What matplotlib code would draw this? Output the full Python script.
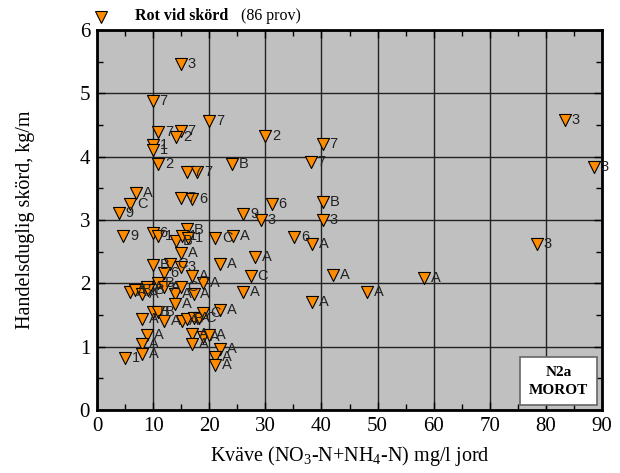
import matplotlib
matplotlib.use("Agg")
import matplotlib.pyplot as plt
from matplotlib.ticker import MultipleLocator
from matplotlib.patches import Rectangle

plt.rcParams['mathtext.fontset'] = 'custom'
plt.rcParams['mathtext.rm'] = 'Liberation Serif'

# Data: nitrogen (mg/l soil), yield (kg/m), point label
kvave = [14.9, 9.9, 10.9, 14.9, 14.1, 20.0, 30.0, 9.9, 9.9, 10.9,
         16.0, 17.9, 24.1, 40.2, 38.1, 31.1, 40.2, 29.2, 26.1, 40.2,
         35.1, 38.3, 28.2, 42.1, 58.3, 27.4, 48.2, 38.3, 83.4, 88.5,
         78.4, 6.9, 5.9, 3.9, 14.9, 17.0, 4.7, 9.9, 10.9, 16.0,
         14.1, 15.1, 16.2, 21.0, 24.2, 14.9, 21.9, 9.9, 13.0, 14.9,
         11.9, 17.0, 18.9, 26.1, 5.9, 6.8, 8.0, 8.9, 10.9, 13.9,
         14.9, 17.2, 13.9, 9.9, 10.9, 21.9, 8.0, 11.9, 15.1, 16.0,
         17.2, 18.1, 18.9, 8.9, 17.0, 18.9, 20.0, 8.0, 17.0, 21.9,
         8.0, 5.0, 21.0, 21.0, 12.0, 9.0]
skord = [5.47, 4.88, 4.39, 4.41, 4.31, 4.56, 4.32, 4.18, 4.10, 3.88,
         3.76, 3.76, 3.89, 4.20, 3.91, 3.26, 3.28, 3.00, 3.10, 3.00,
         2.73, 2.62, 2.42, 2.13, 2.08, 2.12, 1.87, 1.70, 4.58, 3.83,
         2.62, 3.42, 3.25, 3.11, 3.34, 3.33, 2.75, 2.80, 2.74, 2.85,
         2.67, 2.75, 2.71, 2.72, 2.74, 2.48, 2.31, 2.29, 2.31, 2.26,
         2.17, 2.11, 2.01, 1.87, 1.87, 1.90, 1.83, 1.95, 2.00, 1.83,
         1.95, 1.83, 1.67, 1.55, 1.55, 1.58, 1.43, 1.40, 1.41, 1.43,
         1.45, 1.46, 1.53, 1.18, 1.20, 1.16, 1.18, 1.05, 1.05, 0.97,
         0.88, 0.82, 0.83, 0.71, 1.95, 1.90]
etikett = ['3', '7', '7', '7', '2', '7', '2', '1', '1', '2',
           '7', '7', 'B', '7', '7', '6', 'B', '3', '9', '3',
           '6', 'A', 'A', 'A', 'A', 'C', 'A', 'A', '3', '3',
           '3', 'A', 'C', '9', '7', '6', '9', '6', '1', 'B',
           'B', '1', '1', 'C', 'A', 'A', 'A', 'B', 'C', '3',
           '6', 'A', 'A', 'A', 'A', 'B', 'A', 'A', 'B', 'A',
           'C', 'A', 'A', 'B', 'B', 'A', 'A', 'A', 'A', 'B',
           'A', 'C', 'C', 'A', 'A', 'A', 'A', 'A', 'A', 'A',
           'A', '1', 'A', 'A', 'A', 'B']

xticks = [0, 10, 20, 30, 40, 50, 60, 70, 80, 90]
yticks = [0, 1, 2, 3, 4, 5, 6]

orange = '#FF8C00'

fig = plt.figure(figsize=(6.2, 4.73), dpi=100)
ax = fig.add_axes([97/620, 1-410/473, (602-97)/620, (410-30)/473])
ax.set_facecolor('#C0C0C0')
ax.set_xlim(0, 90)
ax.set_ylim(0, 6)

ax.set_xticks(xticks)
ax.set_yticks(yticks)
ax.xaxis.set_minor_locator(MultipleLocator(5))
ax.yaxis.set_minor_locator(MultipleLocator(0.5))
ax.grid(True, which='major', color='#222222', linewidth=1.0)
ax.set_axisbelow(True)
ax.tick_params(which='both', direction='in', top=True, right=True,
               color='black', width=1)
ax.tick_params(which='major', length=6, labelsize=15, pad=5)
ax.tick_params(which='minor', length=4)
for lab in ax.get_xticklabels() + ax.get_yticklabels():
    lab.set_fontfamily('Liberation Serif')
for s in ax.spines.values():
    s.set_linewidth(2)
    s.set_color('black')

ax.scatter(kvave, skord, marker='v', s=75, facecolor=orange,
           edgecolor='black', linewidth=0.8, zorder=3, clip_on=False)
for x, y, t in zip(kvave, skord, etikett):
    ax.annotate(t, (x, y), xytext=(5, 0), textcoords='offset points',
                va='center', ha='left', fontsize=10.5,
                fontfamily='Liberation Sans', color='#222222', zorder=4)

ax.set_xlabel('Kväve (NO$_3$-N+NH$_4$-N) mg/l jord',
              fontfamily='Liberation Serif', fontsize=14.5, labelpad=6)
ax.set_ylabel('Handelsduglig skörd, kg/m',
              fontfamily='Liberation Serif', fontsize=14.5, labelpad=32)

# Legend above the axes
fig.add_artist(plt.Line2D([101/620], [1-17/473], marker='v', markersize=9,
                          markerfacecolor=orange, markeredgecolor='black',
                          markeredgewidth=0.8, linestyle='none',
                          transform=fig.transFigure))
fig.text(135/620, 1-16/473, 'Rot vid skörd', fontfamily='Liberation Serif',
         fontweight='bold', fontsize=11.5, va='center', ha='left')
fig.text(241/620, 1-16/473, '(86 prov)', fontfamily='Liberation Serif',
         fontsize=11.5, va='center', ha='left')

# Info box
bx0, bx1 = (520-97)/505, (597-97)/505
by0, by1 = (410-405)/380, (410-357)/380
ax.add_patch(Rectangle((bx0, by0), bx1-bx0, by1-by0, transform=ax.transAxes,
                       facecolor='white', edgecolor='#666666', linewidth=1.2,
                       zorder=5))
ax.text((bx0+bx1)/2, (by0+by1)/2, 'N2a\nMOROT', transform=ax.transAxes,
        ha='center', va='center', fontfamily='Liberation Serif',
        fontweight='bold', fontsize=11, linespacing=1.5, zorder=6)

fig.savefig('out.png', dpi=100)
